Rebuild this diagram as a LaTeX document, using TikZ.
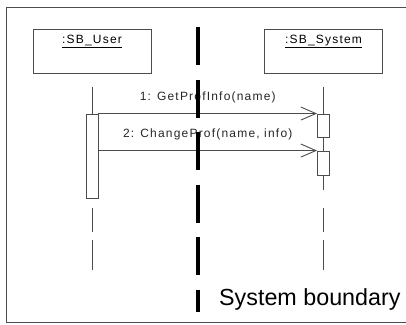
\documentclass[tikz,border=0pt]{standalone}
\usepackage{fontspec}
\setmainfont{Liberation Sans}
\usepackage{tikz}
\usetikzlibrary{arrows.meta,positioning}
\definecolor{linegray}{gray}{0.3}
\newfontfamily\spacedfont[LetterSpace=10]{Liberation Sans}

\begin{document}
\begin{tikzpicture}[x=1pt,y=-1pt]
\tikzset{obj/.style={draw=linegray,line width=0.9pt,minimum width=118pt,minimum height=44pt,inner sep=0pt}}
\tikzset{objlabel/.style={font=\spacedfont\fontsize{12}{14}\selectfont,inner sep=0pt}}
\tikzset{act/.style={draw=linegray,fill=white,line width=0.9pt,minimum width=12pt,inner sep=0pt}}
\tikzset{lifeline/.style={linegray,line width=0.9pt,dash pattern=on 103pt off 18pt on 24pt off 8pt on 30pt}}
\tikzset{msg/.style={linegray,line width=0.9pt,-{Straight Barb[length=15pt,width=13pt]}}}
\tikzset{msglabel/.style={font=\spacedfont\fontsize{12}{14}\selectfont,inner sep=0pt,text=black!85}}
\tikzset{boundary/.style={black,line width=4pt,dash pattern=on 38pt off 14.5pt}}

\useasboundingbox (0,0) rectangle (406,324);
\draw[linegray,line width=1pt] (6.5,7.5) rectangle (410,322.5);

\node[obj] (user) at (92,51) {};
\node[obj] (system) at (323.5,51) {};
\node[objlabel,below=6pt of user.north] (userlbl) {\underline{:SB\_User}};
\node[objlabel,below=6pt of system.north] (systemlbl) {\underline{:SB\_System}};

\coordinate (userTop) at (92,87);
\coordinate (userEnd) at (92,270);
\coordinate (systemTop) at (323.5,87);
\coordinate (systemEnd) at (323.5,270);
\draw[lifeline] (userTop) -- (userEnd);
\draw[lifeline] (systemTop) -- (systemEnd);

\node[act,minimum height=84pt] (actUser) at (92,156) {};
\node[act,minimum height=23pt] (actSys1) at (323.5,125.5) {};
\node[act,minimum height=24pt] (actSys2) at (323.5,163) {};

\draw[msg] (actUser.north east) -- (actSys1.north west)
  node[msglabel,midway,above=10pt] (msg1) {1: GetProfInfo(name)};
\draw[msg] (actUser.east |- actSys2.north) -- (actSys2.north west)
  node[msglabel,midway,above=10pt] (msg2) {2: ChangeProf(name, info)};

\coordinate (bndTop) at (198,27);
\coordinate (bndEnd) at (198,312);
\draw[boundary] (bndTop) -- (bndEnd);
\node[anchor=base west,inner sep=0pt,font=\fontsize{23.3}{27}\selectfont] (bndlbl) at (219,305) {System boundary};
\end{tikzpicture}
\end{document}
